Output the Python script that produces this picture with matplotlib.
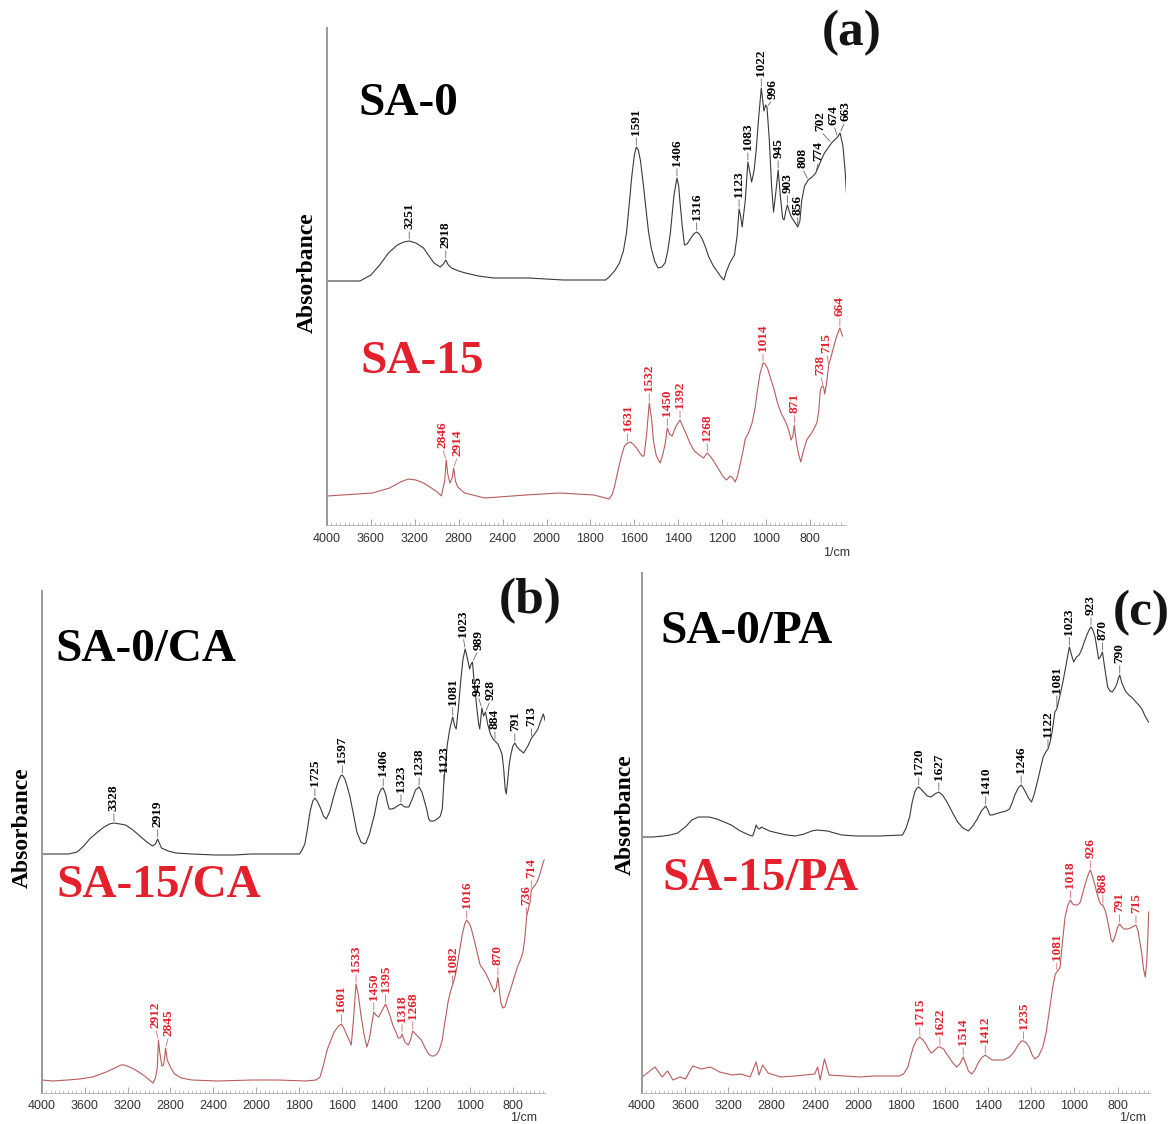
import numpy as np
import matplotlib.pyplot as plt
from matplotlib.ticker import FixedLocator, NullFormatter

# ---------------- data ----------------
# wavenumber (1/cm) and absorbance (arbitrary units)

# (a) SA-0
sa0_wn = [4000, 3700, 3600, 3520, 3440, 3360, 3300, 3251, 3190, 3121,
          3070, 3026, 2968, 2940, 2918, 2895, 2866, 2800, 2738, 2620,
          2483, 2164, 1923, 1731, 1715, 1690, 1668, 1650, 1636, 1622,
          1612, 1600, 1591, 1582, 1572, 1560, 1548, 1536, 1524, 1508,
          1492, 1475, 1460, 1448, 1436, 1420, 1406, 1398, 1393, 1382,
          1372, 1360, 1348, 1330, 1316, 1305, 1293, 1278, 1261, 1240,
          1221, 1205, 1192, 1180, 1165, 1144, 1132, 1123, 1116, 1109,
          1095, 1083, 1075, 1066, 1055, 1045, 1035, 1022, 1015, 1010,
          1002, 996, 985, 975, 966, 955, 945, 935, 925, 918,
          910, 903, 895, 885, 870, 856, 846, 838, 825, 808,
          798, 790, 782, 774, 760, 745, 734, 718, 702, 688,
          674, 663, 650, 640, 632, 624, 616, 608, 600, 595]
sa0_abs = [0, 0, 6, 16, 28, 36, 39, 40, 38, 33,
           25, 18, 14, 17, 21, 16, 13, 10, 8, 5,
           3, 3, 1, 1, 4, 10, 18, 30, 48, 80,
           104, 126, 134, 131, 120, 98, 74, 50, 34, 20,
           13, 14, 18, 30, 48, 85, 103, 95, 81, 55,
           36, 37, 41, 47, 49, 47, 43, 35, 24, 15,
           9, 4, 1, 10, 18, 26, 45, 72, 65, 54,
           80, 119, 110, 99, 110, 131, 160, 193, 180, 170,
           176, 174, 140, 95, 69, 90, 111, 85, 63, 61,
           70, 76, 70, 64, 59, 54, 60, 80, 95, 101,
           103, 104, 106, 108, 115, 123, 128, 133, 138, 141,
           144, 148, 135, 110, 81, 50, 33, 32, 45, 59]
sa0_peaks = ['3251', '2918', '1591', '1406', '1316', '1123', '1083', '1022', '996',
             '945', '903', '856', '808', '774', '702', '674', '663']

# (a) SA-15
sa15_wn = [4000, 3585, 3430, 3330, 3259, 3190, 3119, 3050, 2995, 2958,
           2927, 2914, 2900, 2880, 2860, 2846, 2830, 2809, 2747, 2561,
           2313, 2189, 1940, 1784, 1715, 1700, 1691, 1675, 1660, 1645,
           1631, 1618, 1606, 1590, 1575, 1565, 1556, 1545, 1532, 1522,
           1513, 1500, 1482, 1470, 1459, 1450, 1440, 1428, 1410, 1392,
           1380, 1366, 1345, 1327, 1304, 1285, 1268, 1255, 1242, 1225,
           1211, 1195, 1180, 1164, 1152, 1141, 1130, 1118, 1105, 1095,
           1080, 1064, 1050, 1040, 1028, 1014, 1004, 994, 980, 963,
           948, 932, 920, 909, 896, 886, 878, 871, 866, 862,
           852, 842, 830, 815, 800, 792, 780, 769, 760, 753,
           745, 738, 733, 725, 715, 703, 691, 678, 664, 652]
sa15_abs = [0, 3, 8, 14, 17, 16, 13, 8, 4, 0,
            16, 36, 22, 13, 18, 28, 15, 9, 3, -2,
            0, 1, 3, 1, -3, 2, 9, 25, 39, 50,
            53, 54, 52, 48, 43, 40, 40, 60, 93, 78,
            55, 40, 33, 42, 53, 68, 62, 60, 70, 76,
            70, 63, 52, 45, 41, 38, 43, 40, 36, 30,
            25, 19, 16, 20, 18, 14, 20, 32, 45, 57,
            63, 73, 88, 105, 122, 133, 132, 128, 118, 106,
            93, 83, 78, 73, 65, 56, 60, 71, 60, 53,
            42, 34, 45, 56, 61, 63, 68, 73, 85, 106,
            110, 109, 102, 112, 131, 140, 150, 160, 168, 160]
sa15_peak_pos = [2914, 2846, 1631, 1532, 1450, 1392, 1268, 1014, 871, 738, 715, 664]
sa15_peaks = ['2846', '2914', '1631', '1532', '1450', '1392', '1268', '1014', '871',
              '738', '715', '664']

# (b) SA-0/CA
ca0_wn = [4000, 3750, 3672, 3610, 3555, 3480, 3420, 3370, 3328, 3270,
          3220, 3150, 3086, 3020, 2968, 2940, 2919, 2900, 2884, 2820,
          2750, 2600, 2382, 2200, 2047, 1797, 1785, 1772, 1760, 1747,
          1735, 1725, 1712, 1697, 1685, 1672, 1655, 1638, 1620, 1605,
          1597, 1585, 1575, 1563, 1545, 1529, 1510, 1495, 1487, 1470,
          1458, 1446, 1430, 1415, 1406, 1395, 1385, 1378, 1365, 1353,
          1340, 1323, 1305, 1286, 1270, 1255, 1238, 1225, 1212, 1203,
          1193, 1186, 1170, 1161, 1148, 1139, 1130, 1123, 1115, 1106,
          1095, 1081, 1072, 1065, 1055, 1043, 1033, 1023, 1012, 1002,
          995, 989, 980, 968, 960, 955, 950, 945, 937, 928,
          918, 905, 893, 884, 870, 860, 851, 843, 836, 831,
          825, 817, 809, 800, 791, 780, 767, 750, 730, 713,
          698, 683, 670, 658, 647]
ca0_abs = [0, 0, 2, 8, 15, 22, 27, 30, 31, 30,
           29, 24, 18, 12, 8, 10, 15, 10, 6, 3,
           1, 0, -1, -1, 0, 0, 4, 10, 25, 43,
           53, 56, 52, 45, 38, 35, 43, 57, 70, 78,
           79, 75, 68, 59, 40, 22, 12, 10, 11, 20,
           30, 40, 58, 65, 66, 60, 50, 45, 45, 46,
           48, 50, 47, 47, 55, 64, 67, 62, 52, 45,
           35, 33, 33, 34, 36, 38, 45, 70, 90, 110,
           125, 137, 128, 125, 145, 175, 195, 205, 195, 185,
           190, 192, 170, 145, 130, 125, 135, 146, 138, 142,
           130, 120, 115, 113, 110, 105, 100, 85, 65, 60,
           72, 90, 100, 108, 111, 107, 104, 101, 108, 116,
           120, 125, 133, 140, 132]
ca0_peaks = ['3328', '2919', '1725', '1597', '1406', '1323', '1238', '1123', '1081',
             '1023', '989', '945', '928', '884', '791', '713']

# (b) SA-15/CA
ca15_wn = [4000, 3900, 3761, 3650, 3528, 3400, 3300, 3262, 3229, 3160,
           3096, 3030, 2963, 2940, 2923, 2912, 2900, 2880, 2864, 2855,
           2845, 2830, 2797, 2760, 2698, 2600, 2365, 2033, 1900, 1767,
           1720, 1701, 1685, 1668, 1650, 1635, 1615, 1601, 1590, 1576,
           1565, 1555, 1545, 1533, 1522, 1510, 1495, 1482, 1470, 1460,
           1450, 1440, 1427, 1410, 1395, 1380, 1361, 1345, 1336, 1325,
           1318, 1305, 1289, 1278, 1268, 1250, 1228, 1210, 1194, 1180,
           1169, 1155, 1144, 1130, 1120, 1110, 1103, 1092, 1082, 1072,
           1062, 1050, 1037, 1025, 1016, 1005, 995, 975, 953, 930,
           912, 897, 887, 878, 870, 863, 857, 847, 837, 825,
           812, 795, 779, 765, 754, 745, 736, 729, 720, 714,
           700, 687, 675, 662, 654]
ca15_abs = [0, -1, 0, 1, 3, 8, 13, 15, 15, 12,
            8, 3, -3, 2, 12, 40, 28, 14, 15, 22,
            32, 20, 12, 6, 2, 0, -1, 0, 0, -1,
            0, 3, 15, 30, 40, 48, 54, 56, 52, 45,
            40, 35, 60, 96, 85, 65, 45, 33, 42, 55,
            68, 65, 63, 70, 76, 68, 55, 47, 42, 42,
            46, 38, 35, 40, 49, 45, 40, 32, 26, 24,
            24, 26, 30, 40, 55, 68, 78, 88, 95, 102,
            112, 128, 145, 156, 160, 157, 152, 135, 115, 108,
            100, 93, 88, 92, 103, 90, 78, 72, 73, 82,
            90, 102, 113, 120, 127, 140, 163, 170, 178, 190,
            194, 198, 205, 215, 220]
ca15_peaks = ['2912', '2845', '1601', '1533', '1450', '1395', '1318', '1268', '1082',
              '1016', '870', '736', '714']

# (c) SA-0/PA
pa0_wn = [4000, 3900, 3802, 3740, 3670, 3600, 3538, 3480, 3439, 3380,
          3307, 3240, 3175, 3090, 3010, 2977, 2960, 2944, 2930, 2911,
          2895, 2878, 2820, 2746, 2660, 2581, 2500, 2430, 2383, 2284,
          2220, 2152, 2020, 1900, 1795, 1780, 1762, 1750, 1738, 1728,
          1720, 1710, 1697, 1680, 1663, 1645, 1627, 1610, 1589, 1565,
          1540, 1515, 1490, 1470, 1449, 1430, 1410, 1400, 1391, 1380,
          1366, 1350, 1333, 1315, 1300, 1288, 1275, 1260, 1246, 1236,
          1226, 1212, 1198, 1185, 1168, 1155, 1144, 1132, 1122, 1112,
          1103, 1090, 1081, 1068, 1053, 1040, 1030, 1023, 1013, 1003,
          990, 978, 965, 954, 940, 930, 923, 914, 904, 895,
          888, 880, 870, 860, 846, 835, 825, 815, 805, 797,
          790, 780, 764, 748, 731, 715, 698, 685, 673, 657]
pa0_abs = [0, 0, 1, 2, 4, 10, 17, 20, 20, 20,
           18, 15, 12, 6, 2, 1, 6, 12, 9, 8,
           10, 9, 6, 4, 2, 1, 3, 6, 7, 6,
           4, 2, 1, 1, 2, 8, 20, 35, 45, 49,
           50, 48, 45, 41, 40, 43, 45, 42, 35, 25,
           15, 9, 6, 11, 18, 26, 31, 27, 22, 22,
           23, 24, 25, 26, 28, 34, 42, 49, 52, 49,
           45, 39, 35, 43, 58, 70, 80, 85, 88, 95,
           105, 125, 128, 140, 155, 170, 182, 190, 182, 175,
           180, 182, 188, 195, 203, 208, 210, 207, 200, 188,
           178, 180, 185, 170, 150, 146, 145, 148, 152, 158,
           162, 154, 146, 142, 139, 135, 131, 127, 121, 115]
pa0_peaks = ['1720', '1627', '1410', '1246', '1122', '1081', '1023', '923', '870', '790']

# (c) SA-15/PA
pa15_wn = [4000, 3963, 3880, 3814, 3764, 3714, 3648, 3598, 3532, 3449,
           3366, 3282, 3166, 3083, 3000, 2944, 2917, 2884, 2834, 2718,
           2585, 2402, 2375, 2352, 2312, 2269, 1993, 1927, 1811, 1790,
           1770, 1758, 1745, 1730, 1715, 1700, 1687, 1675, 1661, 1645,
           1630, 1622, 1605, 1587, 1565, 1545, 1530, 1514, 1505, 1490,
           1475, 1460, 1445, 1430, 1412, 1395, 1379, 1350, 1329, 1300,
           1279, 1260, 1245, 1235, 1222, 1209, 1195, 1183, 1165, 1146,
           1130, 1113, 1100, 1088, 1081, 1073, 1066, 1055, 1043, 1030,
           1018, 1008, 997, 985, 972, 960, 947, 935, 926, 915,
           905, 897, 885, 875, 868, 855, 845, 839, 830, 822,
           810, 800, 791, 780, 770, 755, 740, 725, 715, 705,
           697, 689, 680, 672, 665, 660, 656]
pa15_abs = [0, 3, 10, 0, 6, -3, 0, -2, 11, 8,
            10, 5, 2, 3, 0, 15, 2, 12, 4, 0,
            1, 3, 10, -3, 18, 2, 0, 1, 1, 3,
            10, 20, 30, 37, 40, 37, 33, 28, 24, 27,
            30, 30, 28, 22, 15, 10, 13, 20, 15, 6,
            3, 7, 14, 19, 22, 19, 17, 17, 17, 20,
            25, 32, 36, 36, 34, 30, 22, 18, 21, 30,
            45, 70, 90, 103, 105, 107, 110, 135, 160, 172,
            177, 173, 172, 172, 175, 185, 195, 203, 207, 200,
            192, 185, 176, 172, 172, 165, 155, 148, 138, 135,
            142, 150, 153, 150, 148, 148, 149, 151, 152, 146,
            135, 125, 108, 100, 115, 140, 165]
pa15_peaks = ['1715', '1622', '1514', '1412', '1235', '1081', '1018', '926', '868',
              '791', '715']

major_ticks = [4000, 3600, 3200, 2800, 2400, 2000, 1800, 1600, 1400, 1200, 1000, 800]

# ---------------- figure ----------------
W, H = 1174, 1124
fig = plt.figure(figsize=(W / 100, H / 100), dpi=100)

SERIF = 'Liberation Serif'
SANS = 'Liberation Sans'
BLACK_LINE = '#3a3a3a'
RED_LINE = '#b85c5c'
RED_TEXT = '#e3202c'


def fx(px):
    return px / W


def fy(py):
    return 1 - py / H


# Shimadzu-style axis: 4000-2000 region compressed by 2
def fwd(w):
    w = np.asarray(w, dtype=float)
    return np.where(w > 2000, 2000 + (w - 2000) / 2, w)


def inv(u):
    u = np.asarray(u, dtype=float)
    return np.where(u > 2000, 2000 + 2 * (u - 2000), u)


PT = 0.72  # points per pixel at 100 dpi


def label_peaks(ax, wn, ab, off, pos, txt, tcolor, lcolor, nudge):
    order = np.argsort(wn)
    xs = np.asarray(wn, float)[order]
    ys = np.asarray(ab, float)[order]
    for p, t in zip(pos, txt):
        y = np.interp(p, xs, ys) + off
        dx, dy = nudge.get(t, (0, 0))
        ax.annotate(t, xy=(p, y), xytext=(dx * PT, (12 + dy) * PT),
                    textcoords='offset points', rotation=90, ha='center',
                    va='bottom', fontsize=9.5, fontweight='bold', family=SERIF,
                    color=tcolor,
                    arrowprops=dict(arrowstyle='-', color=lcolor, lw=0.6,
                                    shrinkA=0, shrinkB=2 * PT, relpos=(0.5, 0)))


def make_panel(box, xright, ytop, pad):
    l, t, r, b = box
    ax = fig.add_axes([fx(l), fy(b), (r - l) / W, (b - t) / H])
    ax.set_xscale('function', functions=(fwd, inv))
    ax.set_xlim(4000, xright)
    ax.set_ylim(0, ytop)
    ax.xaxis.set_major_locator(FixedLocator(major_ticks))
    ax.xaxis.set_minor_locator(FixedLocator(
        list(np.arange(2040, 4000, 40)) + list(np.arange(660, 2000, 20))))
    ax.xaxis.set_minor_formatter(NullFormatter())
    ax.set_xticklabels([str(v) for v in major_ticks], family=SANS)
    ax.tick_params(axis='x', which='major', direction='in', length=4, width=0.6,
                   color='#999999', labelsize=9, labelcolor='#333333', pad=pad)
    ax.tick_params(axis='x', which='minor', direction='in', length=2.5,
                   width=0.5, color='#aaaaaa')
    ax.set_yticks([])
    for s in ('top', 'right'):
        ax.spines[s].set_visible(False)
    ax.spines['left'].set_color('#9a9a9a')
    ax.spines['left'].set_linewidth(1.4)
    ax.spines['bottom'].set_color('#b0b0b0')
    ax.spines['bottom'].set_linewidth(0.6)
    return ax


panels = [
    dict(box=(327, 28, 846, 525), xr=636, yt=497, pad=6,
         black=(sa0_wn, sa0_abs, 244, [int(p) for p in sa0_peaks], sa0_peaks),
         red=(sa15_wn, sa15_abs, 29, sa15_peak_pos, sa15_peaks),
         bn={'996': (6, -4), '702': (-11, 0), '674': (-4, 0), '663': (5, 0),
             '808': (-6, 0), '774': (3, 0)},
         rn={'2846': (-4, 0), '2914': (4, 0), '738': (-3, 0), '715': (-2, 0)},
         names=[('SA-0', 358, 115, 'black'), ('SA-15', 360, 373, RED_TEXT)],
         tag=('(a)', 852, 45), absorb=(307, 273), unit=(837, 553)),
    dict(box=(42, 591, 545, 1093), xr=650, yt=502, pad=5,
         black=(ca0_wn, ca0_abs, 239, [int(p) for p in ca0_peaks], ca0_peaks),
         red=(ca15_wn, ca15_abs, 13, [int(p) for p in ca15_peaks], ca15_peaks),
         bn={'1023': (-2, 0), '989': (6, 0), '945': (-4, 0), '928': (5, 0)},
         rn={'2912': (-3, 0), '2845': (3, 0)},
         names=[('SA-0/CA', 55, 661, 'black'), ('SA-15/CA', 56, 897, RED_TEXT)],
         tag=('(b)', 530, 613), absorb=(22, 828), unit=(524, 1118)),
    dict(box=(642, 573, 1150, 1093), xr=650, yt=520, pad=5,
         black=(pa0_wn, pa0_abs, 256, [int(p) for p in pa0_peaks], pa0_peaks),
         red=(pa15_wn, pa15_abs, 16, [int(p) for p in pa15_peaks], pa15_peaks),
         bn={'1081': (0, 4)},
         rn={},
         names=[('SA-0/PA', 660, 643, 'black'), ('SA-15/PA', 662, 890, RED_TEXT)],
         tag=('(c)', 1141, 625), absorb=(625, 815), unit=(1133, 1118)),
]

for p in panels:
    ax = make_panel(p['box'], p['xr'], p['yt'], p['pad'])
    bwn, bab, boff, bpos, btxt = p['black']
    rwn, rab, roff, rpos, rtxt = p['red']
    ax.plot(bwn, np.asarray(bab) + boff, color=BLACK_LINE, lw=0.8)
    ax.plot(rwn, np.asarray(rab) + roff, color=RED_LINE, lw=0.8)
    label_peaks(ax, bwn, bab, boff, bpos, btxt, 'black', '#666666', p['bn'])
    label_peaks(ax, rwn, rab, roff, rpos, rtxt, RED_TEXT, '#d07070', p['rn'])

    for name, x, y, c in p['names']:
        fig.text(fx(x), fy(y), name, family=SERIF, fontweight='bold',
                 fontsize=34, color=c, ha='left', va='baseline')
    t, x, y = p['tag']
    fig.text(fx(x), fy(y), t, family=SERIF, fontweight='bold', fontsize=37,
             color='#141414', ha='center', va='baseline')
    x, y = p['absorb']
    fig.text(fx(x), fy(y), 'Absorbance', family=SERIF, fontweight='bold',
             fontsize=17, rotation=90, ha='center', va='center')
    x, y = p['unit']
    fig.text(fx(x), fy(y), '1/cm', family=SANS, fontsize=9, color='#333333',
             ha='center', va='center')

fig.savefig('out.png', dpi=100)
